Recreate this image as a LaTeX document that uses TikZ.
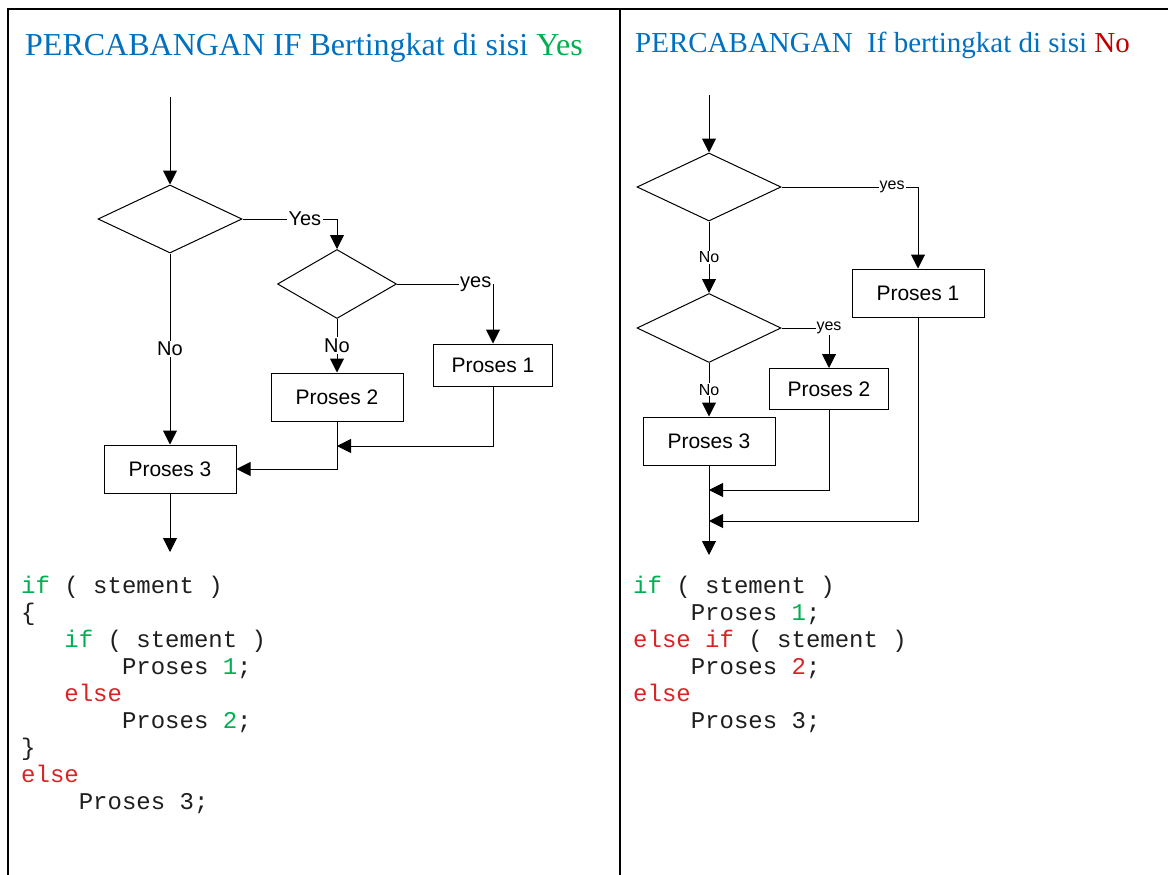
\documentclass[tikz,border=0pt]{standalone}
\usepackage{fontspec}
\setmainfont{Liberation Serif}
\setsansfont{Liberation Sans}
\setmonofont{Liberation Mono}
\usetikzlibrary{shapes.geometric,arrows.meta}
\definecolor{tblue}{RGB}{0,112,192}
\definecolor{cgreen}{RGB}{0,176,80}
\definecolor{dred}{RGB}{192,0,0}
\definecolor{cred}{RGB}{218,36,36}
\definecolor{ctext}{RGB}{30,30,30}
\begin{document}
\begin{tikzpicture}[x=1pt,y=-1pt,
  frame/.style={line width=2pt,black},
  conn/.style={line width=1pt,black},
  arr/.style={conn,-{Triangle[length=14pt,width=14pt]}},
  dec/.style={shape=diamond,draw,line width=1pt,inner sep=0pt,minimum width=144pt,minimum height=68pt},
  procbox/.style={draw,line width=1pt,inner sep=0pt,minimum width=132pt,minimum height=48pt,font=\sffamily\fontsize{21}{24}\selectfont},
  lblL/.style={fill=white,inner sep=1.5pt,font=\sffamily\fontsize{20}{22}\selectfont},
  lblR/.style={fill=white,inner sep=1pt,font=\sffamily\fontsize{16}{18}\selectfont},
  ttl/.style={anchor=base west,inner sep=0pt,text=tblue,font=\rmfamily\fontsize{29}{32}\selectfont},
  codeln/.style={anchor=base west,inner sep=0pt,text=ctext,font=\ttfamily\fontsize{24}{27}\selectfont}
]
\useasboundingbox (0,0) rectangle (1168,875);
% frame
\draw[frame] (7.5,875) -- (7.5,9) -- (1168,9);
\draw[frame] (620,9) -- (620,875);

% titles
\node[ttl,font=\rmfamily\fontsize{32}{35}\selectfont] (t1) at (25,56) {PERCABANGAN IF Bertingkat di sisi \textcolor{cgreen}{Yes}};
\node[ttl] (t2) at (635,53) {PERCABANGAN\ \ If bertingkat di sisi \textcolor{dred}{No}};

% ---------- left flowchart ----------
\coordinate (s1) at (170,97);
\node[dec] (d1) at (170,219) {};
\node[dec,minimum width=119pt,minimum height=69pt] (d2) at (337,284) {};
\node[procbox,minimum width=119pt,minimum height=42pt] (p1) at (493,365) {Proses 1};
\node[procbox] (p2) at (337,397) {Proses 2};
\node[procbox] (p3) at (170,469) {Proses 3};
\coordinate (j1) at (337,446);
\coordinate (e1) at (170,552);

\draw[arr] (s1) -- (d1.north);
\draw[arr] (d1.east) -| node[lblL,pos=0.33] {Yes} (d2.north);
\draw[arr] (d2.east) -| node[lblL,pos=0.41] {yes} (p1.north);
\draw[arr] (d2.south) -- node[lblL] {No} (p2.north);
\draw[arr] (d1.south) -- node[lblL] {No} (p3.north);
\draw[arr] (p2.south) |- (p3.east);
\draw[arr] (p1.south) |- (j1);
\draw[arr] (p3.south) -- (e1);

% ---------- right flowchart ----------
\coordinate (s2) at (709,95);
\node[dec] (d3) at (709,187) {};
\node[dec,minimum height=69pt] (d4) at (709,328) {};
\node[procbox] (p4) at (918,293) {Proses 1};
\node[procbox,minimum width=119pt,minimum height=41pt] (p5) at (829,389) {Proses 2};
\node[procbox] (p6) at (709,441) {Proses 3};
\coordinate (j2) at (709,490);
\coordinate (j3) at (709,521);
\coordinate (e2) at (709,555);

\draw[arr] (s2) -- (d3.north);
\draw[arr] (d3.east) -| node[lblR,pos=0.405] {yes} (p4.north);
\draw[arr] (d3.south) -- node[lblR] {No} (d4.north);
\draw[arr] (d4.east) -| node[lblR,pos=0.5] {yes} (p5.north);
\draw[arr] (d4.south) -- node[lblR] {No} (p6.north);
\draw[arr] (p6.south) -- (e2);
\draw[arr] (p5.south) |- (j2);
\draw[arr] (p4.south) |- (j3);

% ---------- left code ----------
\node[codeln] (c1) at (21,593) {\textcolor{cgreen}{if} ( stement )};
\node[codeln] (c2) at (21,620) {\{};
\node[codeln] (c3) at (21,647) {\phantom{xxx}\textcolor{cgreen}{if} ( stement )};
\node[codeln] (c4) at (21,674) {\phantom{xxxxxxx}Proses \textcolor{cgreen}{1};};
\node[codeln] (c5) at (21,701) {\phantom{xxx}\textcolor{cred}{else}};
\node[codeln] (c6) at (21,728) {\phantom{xxxxxxx}Proses \textcolor{cgreen}{2};};
\node[codeln] (c7) at (21,755) {\}};
\node[codeln] (c8) at (21,782) {\textcolor{cred}{else}};
\node[codeln] (c9) at (21,809) {\phantom{xxxx}Proses 3;};

% ---------- right code ----------
\node[codeln] (r1) at (633,593) {\textcolor{cgreen}{if} ( stement )};
\node[codeln] (r2) at (633,620) {\phantom{xxxx}Proses \textcolor{cgreen}{1};};
\node[codeln] (r3) at (633,647) {\textcolor{cred}{else if} ( stement )};
\node[codeln] (r4) at (633,674) {\phantom{xxxx}Proses \textcolor{cred}{2};};
\node[codeln] (r5) at (633,701) {\textcolor{cred}{else}};
\node[codeln] (r6) at (633,728) {\phantom{xxxx}Proses 3;};
\end{tikzpicture}
\end{document}
